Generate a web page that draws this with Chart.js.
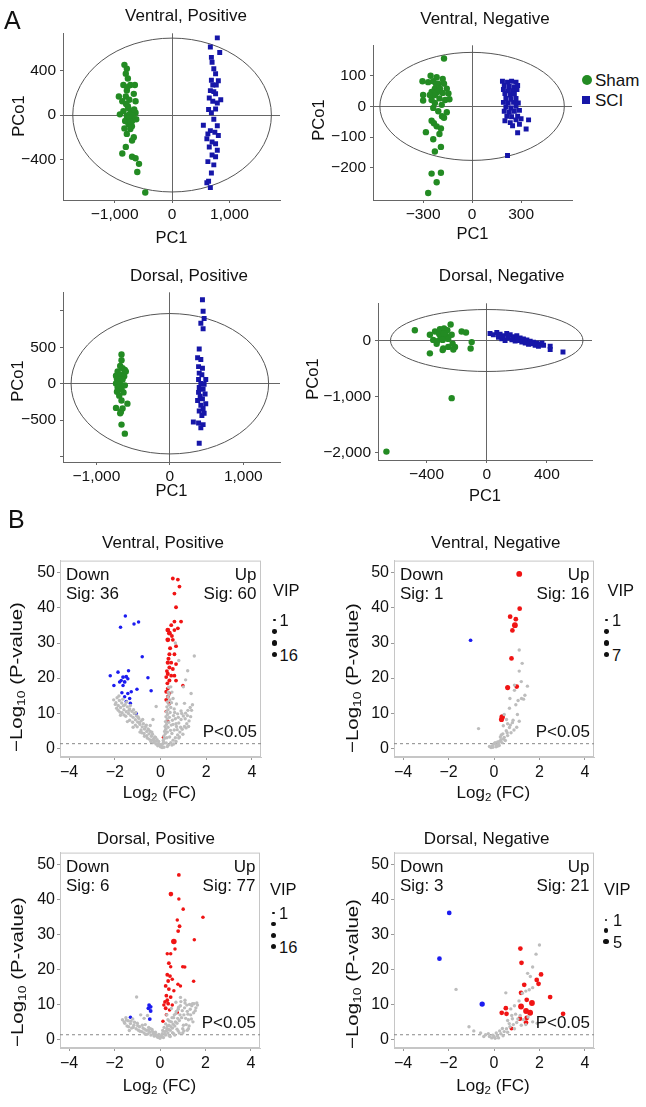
<!DOCTYPE html>
<html>
<head>
<meta charset="utf-8">
<script src="https://cdn.jsdelivr.net/npm/chart.js@4.4.0/dist/chart.umd.min.js"></script>
<style>
  html, body { margin: 0; padding: 0; background: #fff; }
  #fig { position: relative; width: 646px; height: 1107px; overflow: hidden;
         font-family: "Liberation Sans", Arial, Helvetica, sans-serif; color: #111; }
  #fig canvas { position: absolute; }
  .txt { position: absolute; white-space: nowrap; line-height: 1; }
  .txt sub { font-size: 0.68em; vertical-align: -0.3em; line-height: 0; }
  .dot { position: absolute; }
</style>
</head>
<body>
<div id="fig"></div>
<script>
// ---- PCA scores (PC1, PCo1) ----
const vpSham = [[-830,450],[-788,415],[-806,371],[-770,327],[-848,269],[-727,269],[-648,269],[-788,219],[-667,190],[-927,166],[-806,166],[-867,123],[-745,137],[-636,123],[-770,79],[-848,35],[-709,35],[-636,20],[-788,-9],[-727,-23],[-818,-53],[-697,-53],[-624,-38],[-758,-82],[-830,-120],[-727,-126],[-788,-169],[-667,-199],[-697,-228],[-806,-286],[-867,-345],[-697,-374],[-636,-388],[-576,-438],[-606,-511],[-467,-695],[-909,6],[-745,6],[-685,-9],[-760,60],[-700,-100],[-800,100],[-740,-20],[-780,250],[-720,-60],[-660,50]];
const vpSci = [[788,692],[667,610],[830,561],[685,517],[697,473],[727,415],[758,371],[685,312],[806,307],[709,269],[770,269],[667,219],[727,210],[758,190],[648,152],[848,137],[709,123],[788,108],[636,50],[758,55],[685,20],[545,-91],[727,-38],[788,-96],[667,-140],[624,-169],[745,-155],[806,-184],[606,-213],[697,-242],[758,-257],[648,-286],[788,-315],[697,-359],[758,-374],[624,-418],[727,-447],[685,-520],[636,-593],[667,-651],[606,-607]];

const vnSham = [[-172,156],[-254,100],[-217,95],[-180,89],[-304,82],[-269,79],[-238,82],[-207,74],[-172,74],[-228,58],[-197,58],[-155,58],[-248,47],[-213,47],[-180,44],[-300,37],[-228,37],[-145,42],[-200,26],[-248,21],[-165,21],[-300,19],[-139,23],[-228,11],[-186,5],[-238,-5],[-207,-16],[-155,-19],[-184,-32],[-172,-37],[-248,-47],[-234,-55],[-217,-65],[-191,-72],[-283,-84],[-200,-90],[-238,-107],[-191,-132],[-228,-147],[-248,-219],[-191,-216],[-217,-247],[-269,-282],[-259,37],[-221,74]];
const vnSci = [[186,82],[217,79],[242,82],[269,79],[197,68],[228,65],[259,63],[279,68],[192,55],[221,51],[248,51],[275,55],[201,42],[234,37],[259,40],[207,26],[238,23],[269,26],[192,13],[221,11],[254,13],[283,11],[207,-2],[238,-5],[269,0],[197,-16],[228,-19],[259,-16],[290,-13],[213,-32],[242,-34],[279,-32],[201,-47],[234,-53],[269,-44],[300,-40],[248,-63],[290,-58],[346,-44],[279,-86],[331,-74],[217,-160]];

const dpSham = [[-658,403],[-658,323],[-676,243],[-644,212],[-613,190],[-711,168],[-600,168],[-733,111],[-667,124],[-622,102],[-720,66],[-689,35],[-644,58],[-733,4],[-676,-9],[-613,-22],[-711,-53],[-658,-75],[-720,-111],[-631,-119],[-689,-164],[-658,-230],[-733,-332],[-644,-341],[-578,-274],[-667,-385],[-676,-407],[-658,-562],[-613,-686]];
const dpSci = [[444,1155],[453,996],[467,898],[422,832],[453,757],[400,478],[378,358],[422,332],[391,235],[444,212],[400,146],[436,124],[391,58],[489,58],[422,4],[467,-9],[400,-53],[453,-75],[391,-119],[480,-142],[413,-173],[444,-208],[378,-230],[489,-274],[422,-296],[453,-341],[400,-376],[467,-407],[436,-438],[320,-527],[391,-540],[453,-562],[422,-606],[400,-819]];

const dnSham = [[-478,183],[-378,103],[-344,160],[-311,200],[-284,217],[-262,183],[-240,286],[-271,86],[-307,69],[-356,11],[-329,-11],[-293,11],[-256,29],[-233,103],[-167,160],[-138,143],[-378,-229],[-333,-57],[-289,-143],[-256,-114],[-227,-57],[-211,-114],[-100,-29],[-107,-143],[-293,-171],[-222,-160],[-233,-1029],[-667,-1983],[-316,114],[-284,126]];
const dnSci = [[22,126],[44,103],[67,143],[89,114],[111,86],[133,126],[156,103],[178,69],[200,86],[222,46],[244,29],[267,11],[289,-11],[311,-29],[333,-46],[356,-69],[378,-86],[422,-103],[422,-160],[507,-206],[78,57],[100,29],[122,0],[144,46],[167,11],[189,-11],[211,0],[233,-29],[256,-46],[278,-69],[300,-57],[322,-86],[344,-103],[367,-46]];

// PCA tick values
const vpXTicks = [-1000, 0, 1000], vpYTicks = [-400, 0, 400];
const vnXTicks = [-300, 0, 300], vnYTicks = [-200, -100, 0, 100];
const dpXTicks = [-1000, 0, 1000], dpYTicks = [-1000, -500, 0, 500, 1000];
const dnXTicks = [-400, 0, 400], dnYTicks = [-2000, -1000, 0];

// ---- volcano: [log2FC, -log10 P] and [log2FC, -log10 P, VIP] ----
const vpGray = [[-2.05,13.8],[-1.95,13.0],[-1.9,14.4],[-1.85,12.2],[-1.8,13.6],[-1.75,11.6],[-1.7,12.9],[-1.65,14.0],[-1.6,11.0],[-1.55,12.4],[-1.5,10.4],[-1.45,11.8],[-1.4,9.9],[-1.35,11.2],[-1.3,9.3],[-1.25,10.5],[-1.2,8.8],[-1.15,9.9],[-1.1,8.1],[-1.05,9.2],[-1.0,7.5],[-0.95,8.5],[-0.9,6.8],[-0.85,7.8],[-0.8,6.1],[-0.75,7.0],[-0.7,5.5],[-0.65,6.2],[-0.6,4.8],[-0.55,5.5],[-0.5,4.1],[-0.45,4.8],[-0.4,3.4],[-0.35,4.0],[-0.3,2.7],[-0.25,3.2],[-0.2,2.0],[-0.15,2.4],[-0.1,1.3],[-0.05,1.0],[0.0,0.4],[-0.02,0.8],[-1.85,10.8],[-1.6,9.5],[-1.35,8.0],[-1.1,6.6],[-0.85,5.2],[-0.6,3.6],[-0.4,2.3],[-0.2,1.2],[-0.9,4.6],[-0.7,3.4],[-0.5,2.6],[-0.3,1.6],[-1.2,6.0],[-1.45,7.6],[-1.75,9.4],[0.05,0.5],[0.1,1.2],[0.12,2.2],[0.15,3.5],[0.18,4.8],[0.2,6.2],[0.22,7.6],[0.24,9.0],[0.26,10.4],[0.28,11.8],[0.3,13.2],[0.32,14.6],[0.34,16.0],[0.36,17.4],[0.25,1.5],[0.28,3.0],[0.3,4.6],[0.33,6.0],[0.36,7.4],[0.39,8.8],[0.42,10.2],[0.45,11.6],[0.48,13.0],[0.35,0.9],[0.45,1.6],[0.55,2.3],[0.65,3.0],[0.75,3.8],[0.85,4.6],[0.95,5.4],[1.05,6.2],[1.15,7.0],[1.25,7.8],[0.4,3.2],[0.5,4.2],[0.6,5.2],[0.7,6.2],[0.8,7.2],[0.9,8.2],[1.0,9.2],[1.1,10.0],[1.2,10.8],[1.3,11.6],[1.4,12.4],[0.55,6.8],[0.65,8.4],[0.75,9.8],[0.6,11.2],[0.7,12.6],[0.55,14.2],[0.5,16.0],[0.45,17.5],[0.9,10.6],[1.05,12.8],[1.48,26.3],[1.19,22.1],[1.34,15.6],[1.0,17.5],[0.8,25.0],[0.65,30.0],[-0.19,11.9],[-0.33,8.2],[-0.45,6.5],[1.1,19.5],
  [-1.98,12.5],[-1.92,11.4],[-1.82,14.9],[-1.78,10.3],[-1.68,10.1],[-1.62,12.1],[-1.52,9.1],[-1.48,13.2],[-1.38,10.8],[-1.32,12.2],[-1.22,7.4],[-1.18,11.0],[-1.08,10.2],[-1.02,6.1],[-0.98,8.9],[-0.92,7.3],[-0.82,4.4],[-0.78,8.2],[-0.72,4.2],[-0.62,6.6],[-0.58,2.9],[-0.52,5.3],[-0.42,1.9],[-0.38,4.6],[-0.28,2.2],[-0.22,3.1],[-0.12,0.7],[-0.08,1.9],[0.02,1.1],[0.07,0.2],[0.14,1.7],[0.17,2.8],[0.21,4.1],[0.23,5.4],[0.26,6.8],[0.29,8.3],[0.31,9.6],[0.33,11.0],[0.37,12.4],[0.41,13.8],[0.38,15.3],[0.44,5.1],[0.47,6.6],[0.52,8.0],[0.57,9.3],[0.62,10.2],[0.68,7.0],[0.73,5.3],[0.78,8.8],[0.83,3.2],[0.88,6.0],[0.93,9.9],[0.98,4.0],[1.08,8.4],[1.12,5.8],[1.18,9.3],[1.23,6.2],[1.32,9.0],[1.36,10.8],[0.58,1.2],[0.68,1.9],[0.8,2.9],[0.15,0.3],[0.3,0.5],[0.5,0.9]];
const vpUp = [[0.54,48.4,4],[0.76,48.1,4],[0.61,44.1,4],[0.83,46.1,4],[0.68,40.2,4],[0.61,36.1,4],[0.90,36.1,4],[0.47,35.1,4],[0.32,33.7,9],[0.39,32.8,9],[0.61,33.7,4],[0.76,34.2,4],[0.32,30.9,9],[0.54,30.9,4],[0.68,29.1,4],[0.39,26.8,5],[0.61,26.8,4],[0.32,24.4,6],[0.47,24.4,4],[0.68,24.0,4],[0.39,23.0,5],[0.54,22.6,4],[0.32,21.2,5],[0.47,20.7,4],[0.61,20.7,4],[0.25,20.3,4],[0.39,19.3,5],[0.68,19.3,4],[0.98,17.9,3],[0.32,17.0,4],[0.25,16.1,4],[0.39,15.6,4],[0.32,14.7,4],[0.25,13.8,4],[0.39,12.8,4],[0.25,10.5,3],[0.32,7.7,3],[0.13,3.1,3],[0.42,28.5,5],[0.50,32.0,4],[0.35,25.5,5],[0.28,22.0,4],[0.30,18.5,4]];
const vpDown = [[-1.54,37.7,3],[-1.75,34.5,3],[-1.16,35.4,3],[-0.96,36.0,3],[-0.80,26.1,3],[-2.20,20.7,3],[-1.86,21.7,3],[-1.40,22.1,3],[-1.64,20.3,4],[-1.50,20.4,4],[-1.72,19.3,3],[-1.57,18.9,4],[-1.43,19.8,3],[-2.04,17.9,3],[-1.64,17.9,3],[-0.55,20.1,3],[-0.41,16.4,3],[-1.03,16.8,3],[-1.69,15.8,3],[-1.43,15.6,3],[-1.28,16.1,3],[-1.57,14.7,3],[-1.35,14.2,3],[-1.50,13.3,3],[-1.32,12.8,3],[-1.06,9.9,3],[-1.79,18.9,3]];

const vnGray = [[1.11,28.0],[1.24,24.2],[1.11,22.0],[1.47,17.7],[1.2,19.0],[0.9,18.0],[1.36,15.1],[1.21,14.2],[1.06,13.6],[0.96,12.4],[0.70,14.2],[0.68,11.4],[1.03,9.6],[1.11,7.7],[0.81,7.3],[0.60,7.0],[0.41,6.4],[0.68,5.9],[0.54,5.0],[0.39,4.1],[0.45,3.1],[0.31,2.4],[0.16,1.8],[0.01,1.3],[-0.06,0.8],[0.09,0.4],[0.23,0.8],[-0.13,0.2],[-0.68,5.6],[0.45,9.6],[0.2,1.2],[0.28,3.2],[0.35,1.6],[0.5,2.2],[0.6,3.6],[0.75,4.4],[0.88,5.2],[1.0,6.0],[0.1,0.9],[-0.2,0.5],[0.05,1.6],[0.9,16.5],[1.3,14.0],[0.55,8.2],[0.25,2.0],[0.42,2.6],[0.58,4.4],[0.72,6.6],[0.84,8.0],[0.15,0.6],[-0.05,0.3],[0.32,3.8]];
const vnUp = [[1.11,49.7,7],[1.13,39.8,4],[0.71,37.5,4],[0.96,36.8,4],[0.92,35.1,7],[0.81,33.6,4],[0.77,25.6,4],[0.60,17.3,5],[1.00,17.6,4],[0.36,8.9,6],[0.33,8.2,5]];
const vnDown = [[-1.03,30.8,2]];

const dpGray = [[-1.65,5.6],[-1.55,4.6],[-1.5,6.2],[-1.45,3.8],[-1.4,5.3],[-1.3,4.5],[-1.25,3.2],[-1.2,5.8],[-1.15,4.0],[-1.05,3.0],[-1.0,4.6],[-0.95,2.6],[-0.9,3.6],[-0.8,2.2],[-0.75,3.2],[-0.7,1.8],[-0.65,4.2],[-0.6,2.6],[-0.55,1.5],[-0.5,3.4],[-0.45,2.0],[-0.4,1.2],[-0.35,2.8],[-0.3,1.6],[-0.25,0.9],[-0.2,2.0],[-0.15,1.2],[-0.1,0.6],[-0.05,1.4],[0.0,0.3],[-1.03,12.1],[-0.85,7.0],[-0.7,6.0],[-1.35,2.5],[-0.55,6.8],[0.05,0.8],[0.1,1.6],[0.15,0.5],[0.2,2.2],[0.25,1.2],[0.3,3.0],[0.35,1.8],[0.4,4.0],[0.45,2.6],[0.5,5.0],[0.55,3.2],[0.6,6.2],[0.65,3.8],[0.7,7.4],[0.75,4.6],[0.8,8.6],[0.85,5.4],[0.9,9.6],[0.95,6.2],[1.0,3.0],[1.05,7.0],[1.1,10.4],[1.15,4.2],[1.2,8.0],[1.25,5.6],[1.3,10.0],[1.35,7.0],[1.4,9.6],[1.45,5.0],[1.5,10.2],[1.55,8.2],[1.65,9.8],[0.4,1.0],[0.6,1.6],[0.8,2.4],[0.35,5.6],[0.3,7.0],[0.25,4.4],[0.5,8.8],[0.7,10.6],[0.9,12.0],[1.1,11.2],[1.0,1.8],[1.2,2.6],
  [-1.58,5.0],[-1.48,5.5],[-1.38,3.6],[-1.28,5.2],[-1.18,3.4],[-1.12,4.9],[-0.98,3.9],[-0.88,2.3],[-0.78,4.0],[-0.68,2.9],[-0.62,1.4],[-0.52,2.6],[-0.42,3.0],[-0.32,2.2],[-0.22,1.5],[-0.12,1.0],[-0.02,0.6],[0.08,1.2],[0.12,2.5],[0.18,3.4],[0.22,1.6],[0.28,2.4],[0.33,3.8],[0.38,2.8],[0.42,5.2],[0.48,3.6],[0.53,6.2],[0.58,4.3],[0.63,7.0],[0.68,5.0],[0.72,8.0],[0.78,6.0],[0.82,9.2],[0.88,7.0],[0.92,10.8],[0.98,8.2],[1.03,4.0],[1.08,9.0],[1.13,6.0],[1.18,9.8],[1.23,7.2],[1.28,3.8],[1.33,8.6],[1.38,5.8],[1.43,10.2],[1.48,7.6],[1.58,9.0],[1.62,10.4],[0.45,0.8],[0.65,1.2],[0.85,1.8],[1.05,2.4],[1.25,3.0],[0.55,1.9],[0.75,2.9]];
const dpUp = [[0.83,47.1,4],[0.48,41.6,8],[0.83,40.2,3],[1.02,37.3,3],[1.89,35.0,3],[0.76,34.2,3],[0.86,32.4,4],[0.80,31.0,4],[0.61,28.0,14],[0.66,25.9,3],[1.51,28.5,3],[0.32,24.5,3],[0.47,24.5,3],[0.39,21.8,4],[0.47,20.8,3],[1.00,20.8,3],[1.09,20.7,3],[0.32,18.5,4],[0.44,18.1,4],[0.36,16.7,4],[0.54,17.2,3],[1.48,16.6,3],[0.79,15.8,3],[0.90,15.3,3],[0.25,15.3,4],[0.39,14.4,4],[0.61,13.9,3],[0.28,12.5,4],[0.47,12.1,4],[0.22,10.7,4],[0.36,10.2,4],[0.54,9.8,3],[0.25,8.9,4],[0.42,8.4,3],[0.28,7.0,3],[0.76,7.7,3],[0.13,5.2,3],[0.32,11.2,4],[0.17,9.8,3]];
const dpDown = [[-0.48,9.8,4],[-0.41,9.3,4],[-0.51,8.9,4],[-0.41,8.1,4],[-0.45,5.8,4],[-1.30,6.3,3]];

const dnGray = [[2.0,27.0],[1.85,24.4],[1.7,20.7],[1.48,18.9],[1.6,18.0],[1.4,13.8],[1.55,14.2],[1.7,14.8],[1.25,13.2],[-1.67,14.3],[0.52,13.3],[1.1,11.0],[0.9,9.6],[0.74,8.7],[0.95,7.2],[1.15,6.8],[0.81,5.9],[1.7,5.0],[1.9,4.6],[2.1,5.2],[0.67,4.5],[0.37,3.1],[0.25,2.4],[0.1,1.8],[0.0,0.8],[-0.1,0.4],[-0.2,0.8],[-0.37,1.3],[-0.59,1.8],[-0.89,2.4],[-1.1,3.6],[0.05,0.3],[0.15,1.0],[0.3,1.6],[0.45,2.2],[0.55,3.0],[0.7,3.6],[0.85,4.2],[1.0,4.8],[1.2,4.0],[1.3,5.6],[0.9,3.0],[0.6,2.0],[0.4,1.0],[0.2,0.4],[-0.05,1.2],[-0.25,1.6],[-0.45,0.8],[1.05,5.8],[1.4,4.2],[1.5,6.4],[0.78,6.8],[0.6,5.4]];
const dnUp = [[1.16,26.0,3],[1.21,21.9,3],[2.07,18.6,3],[1.88,17.0,3],[1.96,15.9,3],[1.33,15.6,3],[1.19,13.3,3],[2.47,12.1,3],[1.44,11.3,3],[1.67,10.4,5],[1.19,9.4,5],[1.41,8.1,5],[1.59,7.6,5],[0.52,8.9,3],[0.34,7.6,3],[0.55,7.3,3],[1.14,5.9,3],[1.44,6.1,3],[1.41,4.8,3],[3.04,7.3,3],[0.77,3.1,2]];
const dnDown = [[-1.97,36.2,3],[-2.40,23.1,3],[-0.52,10.1,4]];

// volcano tick values
const fcTicks = [-4, -2, 0, 2, 4];
const pTicks = [0, 10, 20, 30, 40, 50];

// VIP legend breaks per volcano
const vipVP = [1, 6, 11, 16];
const vipVN = [1, 3, 5, 7];
const vipDP = [1, 6, 11, 16];
const vipDN = [1, 3, 5];

const GREEN = '#238b23';
const BLUE = '#1616a8';
const RED = '#f01414';
const VBLUE = '#1c1cf0';
const GRAY = '#bdbdbd';
const LINE = '#666';
const FRAME = '#c6c6c6';
const AXIS_W = 60, AXIS_H = 32, PAD = 8;

const fig = document.getElementById('fig');
Chart.defaults.font.family = '"Liberation Sans", Arial, Helvetica, sans-serif';
Chart.defaults.color = '#111';

const fmt = v => (v < 0 ? '\u2212' : '') + Math.abs(v).toLocaleString('en-US');
const toXY = arr => arr.map(p => ({ x: p[0], y: p[1] }));

function vipRadius(v, max) {
  return 1.1 + 1.8 * Math.sqrt((v - 1) / (max - 1));
}

function makeCanvas(a) {
  const cv = document.createElement('canvas');
  cv.width = AXIS_W + (a.r - a.l) + PAD;
  cv.height = PAD + (a.b - a.t) + AXIS_H;
  cv.style.left = (a.l - AXIS_W) + 'px';
  cv.style.top = (a.t - PAD) + 'px';
  fig.appendChild(cv);
  return cv;
}

function addText(html, x, y, size, anchor, rotate, stretch) {
  const el = document.createElement('div');
  el.className = 'txt';
  el.innerHTML = html;
  el.style.left = x + 'px';
  el.style.top = y + 'px';
  el.style.fontSize = size + 'px';
  const tx = anchor === 'left' ? '0' : anchor === 'right' ? '-100%' : '-50%';
  let tf = `translate(${tx}, -50%)`;
  if (rotate) tf += ' rotate(-90deg)';
  if (stretch) tf += ` scaleX(${stretch})`;
  el.style.transform = tf;
  fig.appendChild(el);
}

function addDot(x, y, r, color, square) {
  const el = document.createElement('div');
  el.className = 'dot';
  el.style.left = (x - r) + 'px';
  el.style.top = (y - r) + 'px';
  el.style.width = el.style.height = (2 * r) + 'px';
  el.style.background = color;
  if (!square) el.style.borderRadius = '50%';
  fig.appendChild(el);
}

const ellipsePlugin = {
  id: 'ellipse',
  beforeDatasetsDraw(chart, args, opts) {
    if (!opts || !opts.rx) return;
    const { x, y } = chart.scales;
    const cx = x.getPixelForValue(0), cy = y.getPixelForValue(0);
    const rx = Math.abs(x.getPixelForValue(opts.rx) - cx);
    const ry = Math.abs(y.getPixelForValue(opts.ry) - cy);
    const ctx = chart.ctx;
    ctx.save();
    ctx.strokeStyle = '#555';
    ctx.lineWidth = 1;
    ctx.beginPath();
    ctx.ellipse(cx, cy, rx, ry, 0, 0, Math.PI * 2);
    ctx.stroke();
    ctx.restore();
  }
};

const framePlugin = {
  id: 'frame',
  beforeDatasetsDraw(chart, args, opts) {
    if (!opts || !opts.show) return;
    const { left, top, width, height } = chart.chartArea;
    const ctx = chart.ctx;
    ctx.save();
    ctx.strokeStyle = FRAME;
    ctx.lineWidth = 1;
    ctx.strokeRect(left + 0.5, top + 0.5, width - 1, height - 1);
    ctx.restore();
  }
};

function baseOptions() {
  return {
    responsive: false,
    animation: false,
    devicePixelRatio: 1,
    events: [],
    layout: { padding: { top: PAD, right: PAD, left: 0, bottom: 0 } }
  };
}

// shared axis builder: fixed box size, ticks taken from the given list
function axis(ax) {
  return {
    type: 'linear',
    min: ax.min,
    max: ax.max,
    afterFit: s => { if (s.isHorizontal()) s.height = AXIS_H; else s.width = AXIS_W; },
    afterBuildTicks: s => { s.ticks = ax.ticks.map(v => ({ value: v })); },
    ticks: {
      autoSkip: false,
      maxRotation: 0,
      padding: ax.pad,
      font: { size: ax.size },
      color: '#111',
      callback: v => (ax.hide && ax.hide.includes(v)) ? '' : fmt(v)
    },
    grid: ax.grid,
    border: { color: ax.border, width: 1 }
  };
}

function pcaAxis(ax, horizontal) {
  return axis(Object.assign({
    pad: horizontal ? 2 : 4,
    size: 15.5,
    border: LINE,
    grid: {
      color: c => (c.tick && c.tick.value === 0) ? LINE : 'rgba(0,0,0,0)',
      tickColor: LINE,
      tickLength: 3,
      lineWidth: 1
    }
  }, ax));
}

function pcaChart(area, sham, sci, opt) {
  const cv = makeCanvas(area);
  return new Chart(cv, {
    type: 'scatter',
    data: {
      datasets: [
        { label: 'Sham', data: toXY(sham), pointStyle: 'circle', pointRadius: 3.2,
          pointBackgroundColor: GREEN, pointBorderWidth: 0 },
        { label: 'SCI', data: toXY(sci), pointStyle: 'rect', pointRadius: 3.5,
          pointBackgroundColor: BLUE, pointBorderWidth: 0 }
      ]
    },
    options: Object.assign(baseOptions(), {
      plugins: { legend: { display: false }, tooltip: { enabled: false }, ellipse: opt.ellipse },
      scales: { x: pcaAxis(opt.x, true), y: pcaAxis(opt.y, false) }
    }),
    plugins: [ellipsePlugin]
  });
}

function volcanoAxis(min, max, ticks, horizontal) {
  return axis({
    min, max, ticks,
    pad: horizontal ? 3 : 2,
    size: 16,
    border: FRAME,
    grid: { drawOnChartArea: false, tickColor: '#999', tickLength: 3 }
  });
}

function volcanoChart(area, gray, up, down, vipMax) {
  const cv = makeCanvas(area);
  return new Chart(cv, {
    type: 'scatter',
    data: {
      datasets: [
        { label: 'NS', data: toXY(gray), pointRadius: 1.7, pointBackgroundColor: GRAY, pointBorderWidth: 0 },
        { label: 'Up', data: toXY(up), pointRadius: up.map(p => vipRadius(p[2], vipMax)),
          pointBackgroundColor: RED, pointBorderWidth: 0 },
        { label: 'Down', data: toXY(down), pointRadius: down.map(p => vipRadius(p[2], vipMax)),
          pointBackgroundColor: VBLUE, pointBorderWidth: 0 },
        { label: 'P=0.05', data: [{ x: -4.4, y: 1.3 }, { x: 4.4, y: 1.3 }], showLine: true,
          pointRadius: 0, borderColor: '#888', borderWidth: 1, borderDash: [3, 3] }
      ]
    },
    options: Object.assign(baseOptions(), {
      plugins: { legend: { display: false }, tooltip: { enabled: false }, frame: { show: true } },
      scales: {
        x: volcanoAxis(-4.4, 4.4, fcTicks, true),
        y: volcanoAxis(-2.5, 53.5, pTicks, false)
      }
    }),
    plugins: [framePlugin]
  });
}

function vipLegend(breaks, x, yTop, labelX, gap) {
  const max = breaks[breaks.length - 1];
  breaks.forEach((b, i) => {
    const y = yTop + i * gap;
    addDot(x, y, vipRadius(b, max), '#111');
    if (i === 0 || i === breaks.length - 1) addText(String(b), labelX, y, 16.5, 'left');
  });
}

function volcanoText(a, down, up) {
  addText('Down', a.l + 6, a.t + 17, 17, 'left');
  addText('Sig: ' + down, a.l + 6, a.t + 36, 17, 'left');
  addText('Up', a.r - 4.5, a.t + 17, 17, 'right');
  addText('Sig: ' + up, a.r - 4.5, a.t + 36, 17, 'right');
  addText('P&lt;0.05', a.r - 4, a.b - 26, 17, 'right');
}

// ---- panel A: PCA ----
const A1 = { l: 63, t: 28, r: 280, b: 200 };
const A2 = { l: 373, t: 40, r: 572, b: 200 };
const A3 = { l: 63, t: 287, r: 280, b: 462 };
const A4 = { l: 378, t: 298, r: 592, b: 460 };

pcaChart(A1, vpSham, vpSci, {
  x: { min: -1900, max: 1880, ticks: vpXTicks },
  y: { min: -762, max: 733, ticks: vpYTicks },
  ellipse: { rx: 1730, ry: 690 }
});
pcaChart(A2, vnSham, vnSci, {
  x: { min: -607, max: 612, ticks: vnXTicks },
  y: { min: -305, max: 199, ticks: vnYTicks },
  ellipse: { rx: 565, ry: 176 }
});
pcaChart(A3, dpSham, dpSci, {
  x: { min: -1455, max: 1500, ticks: dpXTicks },
  y: { min: -1076, max: 1257, ticks: dpYTicks, hide: [-1000, 1000] },
  ellipse: { rx: 1345, ry: 965 }
});
pcaChart(A4, dnSham, dnSci, {
  x: { min: -723, max: 700, ticks: dnXTicks },
  y: { min: -2133, max: 664, ticks: dnYTicks },
  ellipse: { rx: 640, ry: 553 }
});

addText('A', 4, 20, 25, 'left');
addText('Ventral, Positive', 186, 15, 17);
addText('Ventral, Negative', 485, 18, 17);
addText('Dorsal, Positive', 189, 275, 17);
addText('Dorsal, Negative', 501.7, 275, 17);
addText('PC1', 171.5, 237, 16.5);
addText('PC1', 472.5, 233, 16.5);
addText('PC1', 171.5, 490, 16.5);
addText('PC1', 485, 495, 16.5);
addText('PCo1', 18, 116, 16.5, 'center', true);
addText('PCo1', 318, 120, 16.5, 'center', true);
addText('PCo1', 17, 381, 16.5, 'center', true);
addText('PCo1', 312, 379, 16.5, 'center', true);

// legend
addDot(586.5, 80, 5, GREEN);
addText('Sham', 595, 80, 17, 'left');
addDot(586, 100, 4.2, BLUE, true);
addText('SCI', 595, 100, 17, 'left');

// ---- panel B: volcano ----
const B1 = { l: 60, t: 557, r: 261, b: 757 };
const B2 = { l: 394, t: 557, r: 594, b: 757 };
const B3 = { l: 60, t: 849, r: 260, b: 1048 };
const B4 = { l: 394, t: 849, r: 594, b: 1048 };

volcanoChart(B1, vpGray, vpUp, vpDown, 16);
volcanoChart(B2, vnGray, vnUp, vnDown, 7);
volcanoChart(B3, dpGray, dpUp, dpDown, 16);
volcanoChart(B4, dnGray, dnUp, dnDown, 5);

addText('B', 8, 519, 25, 'left');
addText('Ventral, Positive', 163, 541.7, 17);
addText('Ventral, Negative', 495.8, 541.7, 17);
addText('Dorsal, Positive', 155.8, 837.5, 17);
addText('Dorsal, Negative', 486.7, 837.5, 17);

volcanoText(B1, 36, 60);
volcanoText(B2, 1, 16);
volcanoText(B3, 6, 77);
volcanoText(B4, 3, 21);

const xLab = 'Log<sub>2</sub> (FC)';
const yLab = '\u2212Log<sub>10</sub> (P-value)';
addText(xLab, 159.5, 792, 17);
addText(xLab, 493.3, 792, 17);
addText(xLab, 159.5, 1085, 17);
addText(xLab, 493, 1085, 17);
addText(yLab, 16, 677, 17, 'center', true, 1.2);
addText(yLab, 352, 678, 17, 'center', true, 1.2);
addText(yLab, 16.5, 972, 17, 'center', true, 1.2);
addText(yLab, 352, 974, 17, 'center', true, 1.2);

addText('VIP', 273, 590, 16.5, 'left');
vipLegend(vipVP, 274.5, 620, 279.5, 11.5);
addText('VIP', 607.5, 590, 16.5, 'left');
vipLegend(vipVN, 606.5, 620, 612, 11.5);
addText('VIP', 270, 889, 16.5, 'left');
vipLegend(vipDP, 273.5, 912.7, 279, 11.3);
addText('VIP', 604, 889, 16.5, 'left');
vipLegend(vipDN, 606, 920, 613, 10.8);
</script>
</body>
</html>
